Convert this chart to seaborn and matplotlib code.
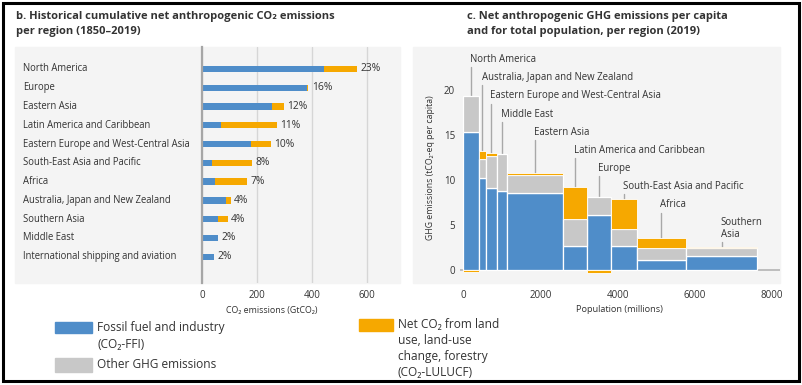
import matplotlib
matplotlib.use("Agg")
import matplotlib.pyplot as plt
from matplotlib.patches import Rectangle
from matplotlib.transforms import blended_transform_factory
import numpy as np
import seaborn as sns

# panel b: cumulative net CO2 1850-2019 (GtCO2)
regions_b = ["North America", "Europe", "Eastern Asia", "Latin America and Caribbean",
             "Eastern Europe and West-Central Asia", "South-East Asia and Pacific", "Africa",
             "Australia, Japan and New Zealand", "Southern Asia", "Middle East",
             "International shipping and aviation"]
ffi_b = [444, 381, 256, 69, 178, 38, 47, 86, 59, 57, 42]
lulucf_b = [118, 5, 41, 203, 72, 145, 115, 18, 34, 0, 0]
share_b = ["23%", "16%", "12%", "11%", "10%", "8%", "7%", "4%", "4%", "2%", "2%"]

# panel c: GHG per capita 2019 (tCO2-eq per capita) and population (millions)
regions_c = ["North America", "Australia, Japan and New Zealand",
             "Eastern Europe and West-Central Asia", "Middle East", "Eastern Asia",
             "Latin America and Caribbean", "Europe", "South-East Asia and Pacific",
             "Africa", "Southern\nAsia"]
population = [415, 165, 285, 260, 1455, 640, 615, 665, 1280, 1835]
ffi_c = [15.4, 10.2, 9.15, 8.8, 8.6, 2.7, 6.1, 2.7, 1.1, 1.6]
other_c = [4.0, 2.1, 3.55, 4.1, 2.0, 3.0, 2.05, 1.85, 1.4, 0.9]
lulucf_c = [-0.2, 0.9, 0.3, 0.0, 0.15, 3.5, -0.35, 3.35, 1.1, 0.1]

BLUE = "#4f8dc9"
ORANGE = "#f6a800"
GREY = "#c8c8c8"
BG = "#f4f4f4"
TXT = "#333333"

sns.set_style("white")
plt.rcParams["font.family"] = ["Open Sans", "DejaVu Sans"]
plt.rcParams["text.color"] = TXT
plt.rcParams["axes.labelcolor"] = TXT
plt.rcParams["xtick.color"] = TXT
plt.rcParams["ytick.color"] = TXT

W, H = 802, 385
fig = plt.figure(figsize=(W / 100, H / 100), dpi=100)


def fx(px):
    return px / W


def fy(py):
    return 1 - py / H


# grey panel backgrounds and outer frame
fig.patches.append(Rectangle((fx(15), fy(283)), fx(400) - fx(15), (283 - 47) / H,
                             transform=fig.transFigure, color=BG, zorder=-5))
fig.patches.append(Rectangle((fx(413), fy(283)), fx(780) - fx(413), (283 - 47) / H,
                             transform=fig.transFigure, color=BG, zorder=-5))
fig.patches.append(Rectangle((fx(3), fy(381)), fx(799) - fx(3), (381 - 3) / H,
                             transform=fig.transFigure, fill=False, ec="black", lw=2.2))

# titles
fig.text(fx(16), fy(24), "b. Historical cumulative net anthropogenic CO\u2082 emissions\nper region (1850\u20132019)",
         fontsize=8.0, fontweight="bold", va="center", ha="left", linespacing=1.4)
fig.text(fx(467), fy(24), "c. Net anthropogenic GHG emissions per capita\nand for total population, per region (2019)",
         fontsize=8.0, fontweight="bold", va="center", ha="left", linespacing=1.4)

# ---- panel b ----
ax_b = fig.add_axes([fx(202), fy(283), fx(400) - fx(202), (283 - 47) / H])
ax_b.set_facecolor("none")
total_b = [f + l for f, l in zip(ffi_b, lulucf_b)]
sns.barplot(x=total_b, y=regions_b, color=ORANGE, width=0.34, saturation=1, ax=ax_b,
            orient="h", edgecolor="none")
sns.barplot(x=ffi_b, y=regions_b, color=BLUE, width=0.34, saturation=1, ax=ax_b,
            orient="h", edgecolor="none")
ax_b.set_xlim(0, 720)
ax_b.set_ylim(11.4, -1.17)
ax_b.set_xticks([0, 200, 400, 600])
ax_b.set_yticks([])
ax_b.set_ylabel("")
ax_b.xaxis.grid(True, color="#d6d6d6", lw=1.0)
ax_b.set_axisbelow(True)
for s in ["top", "right", "bottom"]:
    ax_b.spines[s].set_visible(False)
ax_b.spines["left"].set_color("#a6a6a6")
ax_b.spines["left"].set_linewidth(1.6)
ax_b.tick_params(axis="x", length=3, color="#c8c8c8", labelsize=7, pad=2)
ax_b.set_xlabel("CO\u2082 emissions (GtCO\u2082)", fontsize=6.4)
ax_b.xaxis.set_label_coords((272 - 202) / 198, (283 - 310) / 236)
ax_b.xaxis.label.set_va("center")

lab_tr = blended_transform_factory(fig.transFigure, ax_b.transData)
for i, name in enumerate(regions_b):
    ax_b.text(fx(23), i, name, transform=lab_tr, ha="left", va="center", fontsize=6.85)
    ax_b.text(total_b[i] + 13, i, share_b[i], ha="left", va="center", fontsize=7.4)

# ---- panel c ----
ax_c = fig.add_axes([fx(460), fy(283), fx(780) - fx(460), (283 - 47) / H])
ax_c.set_facecolor("none")
pop = np.array(population, dtype=float)
left = np.concatenate([[0], np.cumsum(pop)[:-1]])
ffi = np.array(ffi_c)
oth = np.array(other_c)
luc = np.array(lulucf_c)
ax_c.axhline(0, color="#b4b4b4", lw=1.2, zorder=1)
ax_c.bar(left, ffi, width=pop, align="edge", color=BLUE, edgecolor="white", lw=0.9, zorder=2)
ax_c.bar(left, oth, bottom=ffi, width=pop, align="edge", color=GREY, edgecolor="white", lw=0.9, zorder=2)
luc_bottom = np.where(luc > 0, ffi + oth, 0)
ax_c.bar(left, luc, bottom=luc_bottom, width=pop, align="edge", color=ORANGE, edgecolor="white",
         lw=0.6, zorder=2)
ax_c.set_xlim(-86, 8215)
ax_c.set_ylim(-1.44, 24.8)
ax_c.set_xticks([0, 2000, 4000, 6000, 8000])
ax_c.set_yticks([0, 5, 10, 15, 20])
for s in ax_c.spines.values():
    s.set_visible(False)
ax_c.tick_params(axis="x", length=3, color="#c8c8c8", labelsize=7, pad=2)
ax_c.tick_params(axis="y", length=2, color="#c8c8c8", labelsize=7, pad=1.5)
ax_c.set_xlabel("Population (millions)", fontsize=6.6)
ax_c.xaxis.set_label_coords((619 - 460) / 320, (283 - 310) / 236)
ax_c.xaxis.label.set_va("center")
ax_c.set_ylabel("GHG emissions (tCO\u2082-eq per capita)", fontsize=6.3)
ax_c.yaxis.set_label_coords((435 - 460) / 320, (283 - 168) / 236)

top = ffi + oth + np.clip(luc, 0, None)
for i, name in enumerate(regions_c):
    cx = left[i] + pop[i] / 2
    extra = name.count("\n")
    ly = 23.4 - 2.02 * i
    ax_c.text(cx - 25, ly - 0.6 * extra, name, ha="left", va="center", fontsize=6.9,
              linespacing=1.15)
    ax_c.plot([cx, cx], [ly - 0.85 - 1.2 * extra, top[i]], color="#a8a8a8", lw=1.0, zorder=1)

# ---- legend ----
def legend_item(x0, y0, x1, y1, color, label, ty):
    fig.patches.append(Rectangle((fx(x0), fy(y1)), fx(x1) - fx(x0), (y1 - y0) / H,
                                 transform=fig.transFigure, color=color))
    fig.text(fx(x1 + 5), fy(ty), label, fontsize=8.6, ha="left", va="center", linespacing=1.3)


legend_item(55, 322, 92, 333, BLUE, "Fossil fuel and industry\n(CO\u2082-FFI)", 336)
legend_item(55, 358, 92, 372, GREY, "Other GHG emissions", 365)
legend_item(359, 319, 393, 331, ORANGE,
            "Net CO\u2082 from land\nuse, land-use\nchange, forestry\n(CO\u2082-LULUCF)", 348.5)

fig.savefig("out.png", dpi=100)
